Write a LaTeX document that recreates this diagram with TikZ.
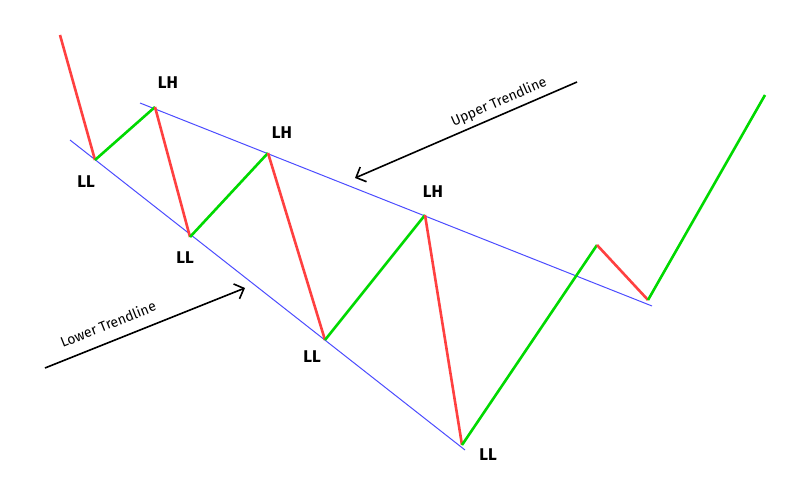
\documentclass[tikz,border=0pt]{standalone}
\usepackage{fontspec}
\setmainfont{Fira Sans}
\usetikzlibrary{arrows.meta}
\begin{document}
\begin{tikzpicture}[x=1pt,y=-1pt,
 up/.style={draw=green!85!black,line width=2.6pt},
 dn/.style={draw=red!75!white,line width=2.6pt},
 tl/.style={draw=blue!70!white,line width=1pt},
 lbl/.style={font=\fontsize{17}{19}\selectfont\bfseries},
 ann/.style={font=\fontsize{14}{16}\selectfont,inner sep=0pt}]
\useasboundingbox (0,0) rectangle (800,481);
\coordinate (s) at (60,35);
\coordinate (p1) at (95,160);
\coordinate (p2) at (155,107);
\coordinate (p3) at (190,237);
\coordinate (p4) at (268,153);
\coordinate (p5) at (325,340);
\coordinate (p6) at (425,215);
\coordinate (p7) at (462,445);
\coordinate (p8) at (597,245);
\coordinate (p9) at (648,300);
\coordinate (p10) at (765,95);
\coordinate (ua) at (140,103);
\coordinate (ub) at (652,306);
\coordinate (la) at (70,140);
\coordinate (lb) at (465,450);
\draw[tl] (ua)--(ub);
\draw[tl] (la)--(lb);
\draw[dn] (s)--(p1); \draw[up] (p1)--(p2); \draw[dn] (p2)--(p3);
\draw[up] (p3)--(p4); \draw[dn] (p4)--(p5); \draw[up] (p5)--(p6);
\draw[dn] (p6)--(p7); \draw[up] (p7)--(p8); \draw[dn] (p8)--(p9);
\draw[up] (p9)--(p10);
\node[lbl] (l1) at (86,182) {LL};
\node[lbl] (l2) at (168,83) {LH};
\node[lbl] (l3) at (185,258) {LL};
\node[lbl] (l4) at (282,133) {LH};
\node[lbl] (l5) at (312,357) {LL};
\node[lbl] (l6) at (433,192) {LH};
\node[lbl] (l7) at (488,455) {LL};
\coordinate (uA) at (577,82);
\coordinate (uB) at (355,178);
\draw[line width=1.6pt,-{Straight Barb[length=8pt,width=16pt]}] (uA)--(uB);
\node[ann,rotate=23.4] (ut) at (499,102) {Upper Trendline};
\coordinate (lA) at (45,368);
\coordinate (lB) at (245,288);
\draw[line width=1.6pt,-{Straight Barb[length=8pt,width=16pt]}] (lA)--(lB);
\node[ann,rotate=21.8] (lt) at (108,324) {Lower Trendline};
\end{tikzpicture}
\end{document}
